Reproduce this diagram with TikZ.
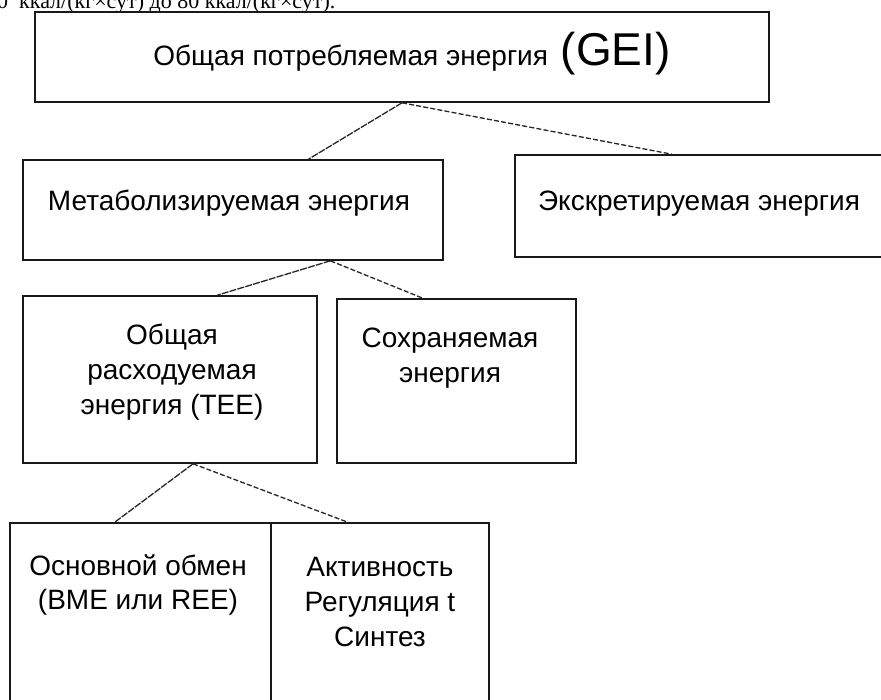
\documentclass[tikz,border=0pt]{standalone}
\usepackage{fontspec}
\setmainfont{Liberation Sans}
\newfontfamily\pagefont{Liberation Serif}
\usetikzlibrary{calc,shadows}
\newcommand\geifont{\fontsize{46}{50}\selectfont}

\begin{document}
\begin{tikzpicture}[
    x=1pt, y=-1pt,
    box/.style={
        draw=black!90,
        fill=white,
        line width=1.6pt,
        inner sep=0pt,
        drop shadow={shadow xshift=1.3pt, shadow yshift=-1.3pt, opacity=0.55}
    },
    txt/.style={
        align=center,
        inner sep=0pt,
        font=\fontsize{28}{35}\selectfont
    },
    lnk/.style={draw=black!85, line width=1.3pt, dash pattern=on 7pt off 1.2pt},
    lnkd/.style={draw=black!85, line width=1.3pt, dash pattern=on 5pt off 2.2pt}
]
    \useasboundingbox (0,0) rectangle (881,699);
    \clip (0,0) rectangle (881,699);

    \node[anchor=base west, inner sep=0pt, font=\pagefont\fontsize{22}{24}\selectfont] (prev) at (-3,8)
        {0\ \ ккал/(кг×сут) до 80 ккал/(кг×сут).};

    \node[box, minimum width=734pt, minimum height=90pt] (gei) at (402,57) {};
    \node[box, minimum width=420pt, minimum height=100pt] (metab) at (233,210) {};
    \node[box, minimum width=370pt, minimum height=102pt] (excr) at (700,206) {};
    \node[box, minimum width=294pt, minimum height=167pt] (tee) at (170,379.5) {};
    \node[box, minimum width=239pt, minimum height=164pt] (stored) at (456.5,381) {};
    \node[box, minimum width=261pt, minimum height=197pt] (bme) at (140.5,621.5) {};
    \node[box, minimum width=218pt, minimum height=197pt] (act) at (380,621.5) {};

    \node[txt, anchor=base] (gei-txt) at (412,65)
        {Общая потребляемая энергия{\geifont\ (GEI)}};
    \node[txt, anchor=base] (metab-txt) at (229,210) {Метаболизируемая энергия};
    \node[txt, anchor=base] (excr-txt) at (699,210) {Экскретируемая энергия};
    \node[txt] (tee-txt) at (172,372) {Общая\\расходуемая\\энергия (TEE)};
    \node[txt] (stored-txt) at (450,358) {Сохраняемая\\энергия};
    \node[txt] (bme-txt) at (138,585) {Основной обмен\\(BME или REE)};
    \node[txt] (act-txt) at (380,602) {Активность\\Регуляция t\\Синтез};

    \draw[lnk] (gei.south) -- ($(metab.north west)!0.679!(metab.north east)$);
    \draw[lnkd] (gei.south) -- ($(excr.north west)!0.424!(excr.north east)$);
    \draw[lnk] ($(metab.south west)!0.731!(metab.south east)$) -- ($(tee.north west)!0.66!(tee.north east)$);
    \draw[lnkd] ($(metab.south west)!0.731!(metab.south east)$) -- ($(stored.north west)!0.36!(stored.north east)$);
    \draw[lnk] ($(tee.south west)!0.578!(tee.south east)$) -- ($(bme.north west)!0.402!(bme.north east)$);
    \draw[lnkd] ($(tee.south west)!0.578!(tee.south east)$) -- ($(act.north west)!0.353!(act.north east)$);
\end{tikzpicture}
\end{document}
